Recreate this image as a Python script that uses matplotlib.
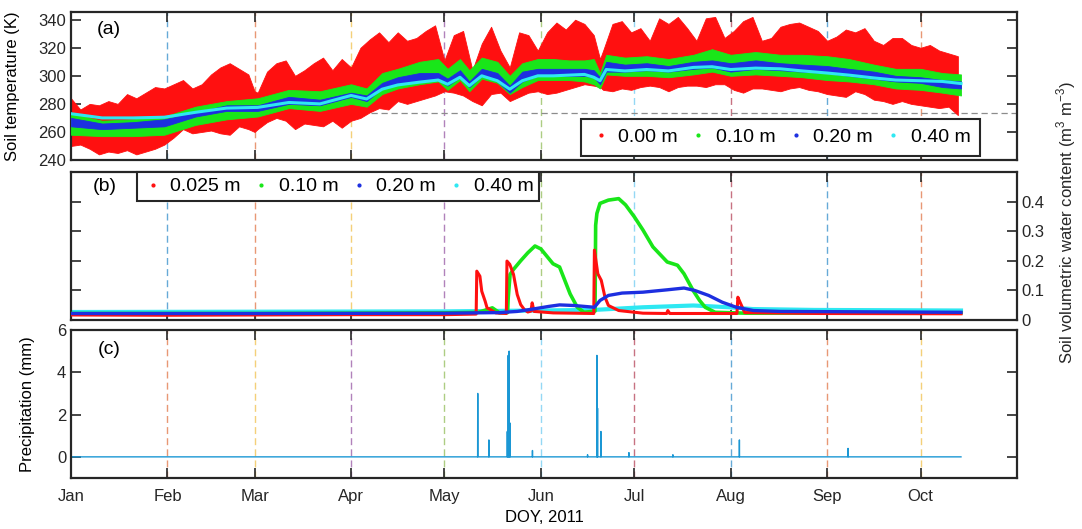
import numpy as np
import matplotlib
matplotlib.use("Agg")
import matplotlib.pyplot as plt
from matplotlib.lines import Line2D

plt.rcParams['font.family'] = ['Liberation Sans', 'DejaVu Sans']
plt.rcParams['mathtext.fontset'] = 'custom'
plt.rcParams['mathtext.rm'] = 'Liberation Sans'

# day of year (0 = 1 Jan 2011)
month_start = [0, 31, 59, 90, 120, 151, 181, 212, 243, 273]
month_names = ["Jan", "Feb", "Mar", "Apr", "May", "Jun", "Jul", "Aug", "Sep", "Oct"]
x_end = 304

# (a) soil temperature, surface daily envelope (K)
t0_day = [0, 3, 6, 9, 12, 15, 18, 21, 24, 27, 30, 33, 36, 39, 42, 45, 48, 51, 54, 57, 59,
          60, 63, 66, 69, 72, 75, 78, 81, 84, 87, 90, 93, 96, 99, 102, 105, 108, 111, 114,
          117, 120, 123, 126, 129, 132, 135, 138, 141, 144, 147, 150, 153, 156, 159, 162,
          165, 168, 170, 171, 174, 177, 180, 183, 186, 189, 192, 195, 198, 201, 204, 207,
          210, 213, 216, 219, 222, 225, 228, 231, 234, 237, 240, 243, 246, 249, 252, 255,
          258, 261, 264, 267, 270, 273, 276, 279, 282, 285]
t0_max = [284, 276, 280, 279, 282, 280, 287, 284, 288, 292, 291, 294, 297, 291, 294, 301, 306,
          309, 305, 301, 289, 288, 303, 309, 311, 300, 304, 309, 313, 304, 312, 306, 320, 326,
          331, 324, 331, 325, 327, 332, 336, 311, 329, 332, 304, 323, 335, 318, 306, 331, 329,
          318, 331, 338, 333, 340, 337, 329, 312, 318, 337, 339, 331, 334, 325, 341, 337, 342,
          334, 325, 341, 342, 327, 332, 339, 342, 325, 327, 335, 337, 338, 335, 332, 325, 328,
          333, 331, 334, 325, 322, 327, 327, 322, 320, 322, 318, 316, 314]
t0_min = [250, 251, 248, 244, 246, 245, 247, 244, 246, 248, 251, 256, 262, 259, 260, 261, 259,
          258, 264, 262, 260, 262, 267, 270, 268, 262, 266, 265, 264, 268, 263, 268, 270, 274,
          277, 276, 282, 280, 282, 284, 286, 289, 288, 286, 282, 279, 287, 288, 282, 285, 288,
          289, 287, 288, 290, 292, 294, 293, 292, 290, 289, 291, 290, 292, 293, 292, 289, 292,
          293, 293, 292, 294, 294, 290, 288, 291, 291, 290, 289, 291, 292, 290, 289, 287, 286,
          285, 289, 287, 283, 282, 280, 282, 280, 279, 278, 277, 278, 272]

# deeper layers (K)
band_day = [0, 10, 20, 30, 40, 50, 60, 70, 80, 90, 95, 100, 105, 112, 118, 121, 125, 128, 132,
            137, 141, 145, 150, 155, 160, 165, 168, 170, 172, 178, 185, 192, 200, 206, 212,
            220, 228, 235, 243, 250, 258, 265, 273, 280, 286]
t10_lo = [258, 257, 257, 258, 265, 269, 271, 277, 275, 280, 278, 287, 291, 294, 296, 290, 297,
          289, 298, 295, 287, 292, 297, 297, 297, 296, 294, 291, 301, 300, 300, 299, 301, 303,
          300, 301, 300, 299, 297, 296, 294, 291, 290, 288, 286]
t10_hi = [273, 268, 269, 271, 278, 282, 284, 290, 289, 294, 291, 302, 305, 310, 312, 305, 312,
          304, 313, 310, 300, 309, 312, 312, 311, 311, 312, 302, 315, 313, 314, 312, 315, 319,
          315, 317, 315, 315, 314, 312, 308, 305, 305, 302, 301]
t20_lo = [264, 262, 263, 264, 271, 275, 275, 280, 279, 285, 282, 291, 294, 296, 297, 293, 299,
          292, 300, 296, 288, 296, 300, 300, 300, 300, 299, 294, 303, 303, 304, 303, 305, 306,
          303, 305, 304, 303, 302, 300, 298, 296, 295, 292, 291]
t20_hi = [270, 266, 267, 269, 274, 279, 279, 285, 283, 288, 286, 295, 299, 302, 302, 298, 304,
          296, 305, 302, 293, 303, 305, 305, 305, 305, 304, 299, 310, 308, 309, 307, 310, 311,
          309, 311, 309, 308, 307, 305, 303, 300, 299, 297, 296]
t40 = [273, 270, 270, 270.5, 274, 277, 277.5, 281, 280, 286, 283.5, 290.5, 293.5, 295.5, 297,
       294, 299, 293, 300, 296.5, 290.5, 296.5, 300, 300, 300.5, 301, 299, 296.5, 304.5, 303.5,
       304.5, 303.5, 306, 306.5, 304.5, 305.5, 305, 303.5, 302, 300.5, 298.5, 297, 296.5, 296,
       294.5]
freezing = 273.15

# (b) soil volumetric water content (m3 m-3)
vwc025_day = [0, 30, 60, 90, 120, 130.2, 130.4, 131.4, 132.0, 133.1, 133.7, 134.8, 136.5,
              139.9, 140.1, 141.0, 142.2, 143.4, 144.5, 145.7, 146.8, 147.8, 148.2, 148.8, 155,
              168.0, 168.2, 169.3, 170.4, 171.6, 172.7, 176.0, 183.8, 191.4, 191.8, 192.4,
              214.0, 214.3, 215.0, 216.5, 240, 286]
vwc025 = [0.017, 0.016, 0.017, 0.018, 0.018, 0.02, 0.165, 0.148, 0.097, 0.063, 0.041, 0.035,
          0.024, 0.022, 0.199, 0.188, 0.154, 0.086, 0.052, 0.035, 0.027, 0.03, 0.058, 0.029,
          0.024, 0.022, 0.236, 0.156, 0.134, 0.077, 0.049, 0.032, 0.023, 0.022, 0.032, 0.022,
          0.022, 0.077, 0.06, 0.025, 0.022, 0.021]
vwc10_day = [0, 60, 120, 131, 135.4, 137.7, 140.3, 140.5, 141.1, 142.2, 144.5, 146.8, 149.1,
             151, 154.9, 157, 160.4, 162.7, 164.9, 168.4, 168.6, 169.0, 170, 172.7, 176, 178.2,
             181, 183.8, 187, 191.6, 194.9, 197, 199.9, 202, 203.8, 207, 217, 286]
vwc10 = [0.022, 0.022, 0.024, 0.026, 0.041, 0.024, 0.025, 0.075, 0.154, 0.171, 0.2, 0.227,
         0.25, 0.24, 0.19, 0.179, 0.088, 0.043, 0.026, 0.03, 0.32, 0.36, 0.394, 0.405, 0.41,
         0.389, 0.349, 0.304, 0.247, 0.196, 0.185, 0.156, 0.1, 0.066, 0.043, 0.026, 0.023, 0.024]
vwc20_day = [0, 60, 120, 137.7, 143.4, 149, 153.6, 157, 161.6, 168.2, 170, 172.7, 177.1, 183.8,
             191.6, 197, 200.4, 204.9, 209.3, 213.8, 219.3, 228, 286]
vwc20 = [0.022, 0.022, 0.023, 0.025, 0.029, 0.038, 0.046, 0.051, 0.049, 0.043, 0.066, 0.083,
         0.091, 0.094, 0.102, 0.108, 0.1, 0.083, 0.06, 0.043, 0.032, 0.029, 0.026]
vwc40_day = [0, 60, 120, 150, 168, 183.8, 200, 211.6, 219, 239, 286]
vwc40 = [0.027, 0.028, 0.029, 0.032, 0.034, 0.043, 0.049, 0.043, 0.037, 0.034, 0.032]

# (c) precipitation events (mm)
rain_day = [130.7, 134.3, 140.2, 140.5, 140.8, 141.1, 148.3, 166.0, 169.0, 169.2, 170.3,
            179.3, 193.4, 214.8, 249.7]
rain_mm = [3.0, 0.8, 1.2, 4.8, 5.0, 1.6, 0.3, 0.1, 4.8, 2.3, 1.2, 0.2, 0.1, 0.8, 0.4]
record_end = 286

red, green, blue, cyan = '#ff1010', '#19e619', '#1d2fe0', '#2ee8f2'
# MATLAB default colour order, used for the month lines
mcol = [(0, 0.447, 0.741), (0.85, 0.325, 0.098), (0.929, 0.694, 0.125),
        (0.494, 0.184, 0.556), (0.466, 0.674, 0.188), (0.301, 0.745, 0.933),
        (0.635, 0.078, 0.184)]

fig = plt.figure(figsize=(10.82, 5.29), dpi=100)
w = 946 / 1082
h = 148 / 529
ax_a = fig.add_axes([71 / 1082, 1 - 160 / 529, w, h])
ax_b = fig.add_axes([71 / 1082, 1 - 320 / 529, w, h])
ax_c = fig.add_axes([71 / 1082, 1 - 478 / 529, w, h])


def month_lines(ax, first):
    for i, d in enumerate(month_start[1:]):
        ax.axvline(d, color=mcol[(first + i) % 7], alpha=0.6, lw=1.0,
                   ls=(0, (5, 3)), zorder=0.5)


def style(ax):
    ax.set_xlim(0, x_end)
    ax.set_xticks(month_start)
    ax.tick_params(direction='in', length=7, width=1.2, top=True, right=True,
                   labelsize=12, colors='#262626')
    for s in ax.spines.values():
        s.set_linewidth(1.6)
        s.set_color('#262626')


def depth_legend(ax, labels, **kw):
    hd = [Line2D([], [], ls='none', marker='.', ms=4, color=c) for c in (red, green, blue, cyan)]
    leg = ax.legend(hd, labels, ncol=4, fontsize=14, frameon=True, fancybox=False,
                    edgecolor='#262626', framealpha=1, handlelength=1.0,
                    handletextpad=0.4, columnspacing=0.55, **kw)
    leg.get_frame().set_linewidth(1.5)


# (a)
month_lines(ax_a, 0)
ax_a.axhline(freezing, color='#8c8c8c', lw=0.9, ls=(0, (5, 3)), zorder=0.6)
ax_a.fill_between(t0_day, t0_min, t0_max, color=red, lw=0.6, zorder=2)
ax_a.fill_between(band_day, t10_lo, t10_hi, color=green, lw=0.6, zorder=3)
ax_a.fill_between(band_day, t20_lo, t20_hi, color=blue, lw=0.6, zorder=4)
ax_a.plot(band_day, t40, color=cyan, lw=2.2, zorder=5)
ax_a.set_ylim(240, 345.5)
ax_a.set_yticks(np.arange(240, 341, 20))
style(ax_a)
ax_a.tick_params(labelbottom=False)
ax_a.set_ylabel("Soil temperature (K)", fontsize=12)
ax_a.yaxis.set_label_coords(-0.054, 0.5)
ax_a.text(0.04, 0.885, "(a)", transform=ax_a.transAxes, fontsize=14, va='center', ha='center')
depth_legend(ax_a, ["0.00 m", "0.10 m", "0.20 m", "0.40 m"], loc='lower right',
             bbox_to_anchor=(0.961, 0.03), borderaxespad=0, borderpad=0.5)

# (b)
month_lines(ax_b, 0)
ax_b.plot(vwc40_day, vwc40, color=cyan, lw=3, zorder=2)
ax_b.plot(vwc10_day, vwc10, color=green, lw=2.6, zorder=3)
ax_b.plot(vwc025_day, vwc025, color=red, lw=2.2, zorder=4)
ax_b.plot(vwc20_day, vwc20, color=blue, lw=2.4, zorder=5)
ax_b.set_ylim(0, 0.5)
ax_b.set_yticks([0, 0.1, 0.2, 0.3, 0.4])
ax_b.set_yticklabels(["0", "0.1", "0.2", "0.3", "0.4"])
style(ax_b)
ax_b.tick_params(labelbottom=False, labelleft=False, labelright=True)
ax_b.text(0.036, 0.9, "(b)", transform=ax_b.transAxes, fontsize=14, va='center', ha='center')
depth_legend(ax_b, ["0.025 m", "0.10 m", "0.20 m", "0.40 m"], loc='upper left',
             bbox_to_anchor=(0.07, 1.0), borderaxespad=0, borderpad=0.3)
fig.text(1066 / 1082, 1 - 223 / 529, "Soil volumetric water content (m$^3$ m$^{-3}$)",
         rotation=90, ha='center', va='center', fontsize=12, color='#262626')

# (c)
t_hour = np.arange(0, record_end * 24 + 1) / 24.0
precip = np.zeros_like(t_hour)
for d, p in zip(rain_day, rain_mm):
    precip[int(round(d * 24))] = p
month_lines(ax_c, 1)
ax_c.plot(t_hour, precip, color='#1b97d4', lw=1.0, zorder=2)
ax_c.set_ylim(-1, 6)
ax_c.set_yticks([0, 2, 4, 6])
style(ax_c)
ax_c.set_xticklabels(month_names)
ax_c.tick_params(axis='x', pad=8)
ax_c.set_ylabel("Precipitation (mm)", fontsize=12)
ax_c.yaxis.set_label_coords(-0.038, 0.5)
ax_c.set_xlabel("DOY, 2011", fontsize=12, labelpad=4)
ax_c.text(0.04, 0.865, "(c)", transform=ax_c.transAxes, fontsize=14, va='center', ha='center')

fig.savefig("out.png", dpi=100)
